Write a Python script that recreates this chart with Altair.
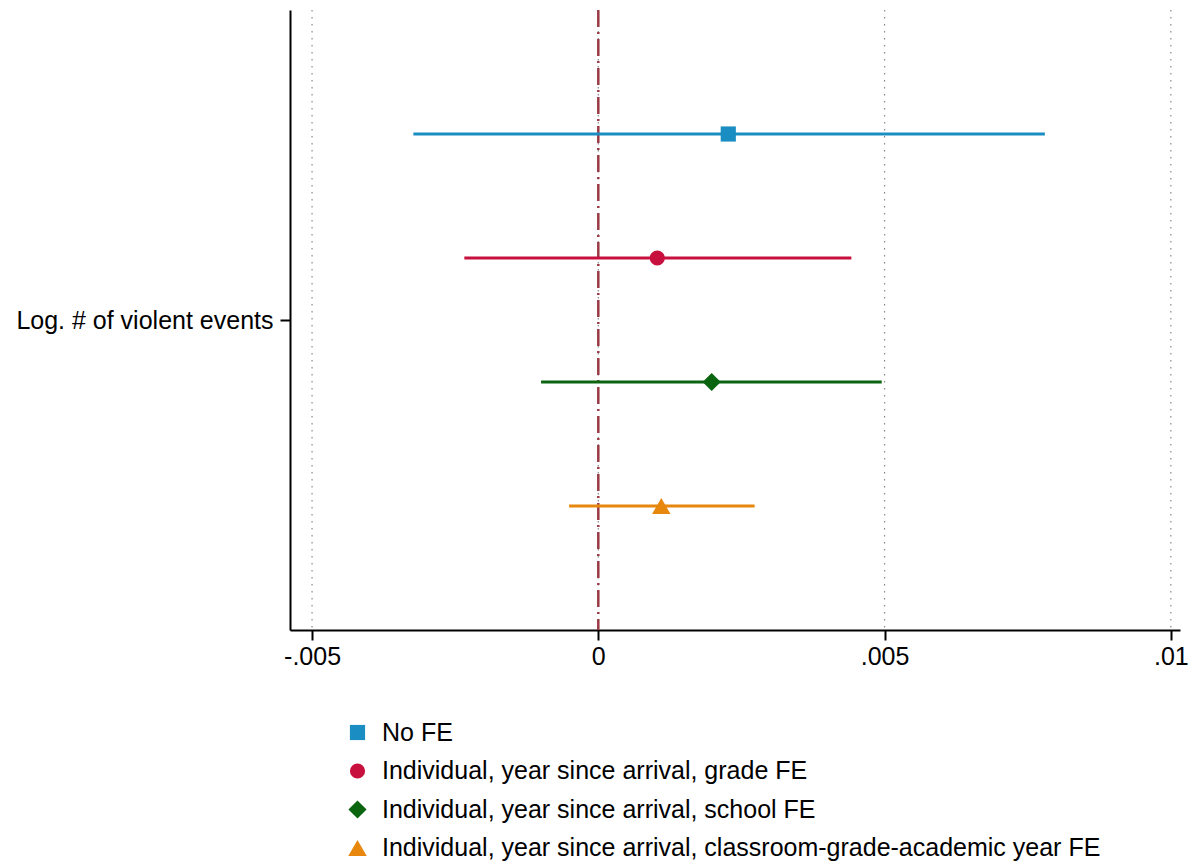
import altair as alt
import pandas as pd

series = [
    "No FE",
    "Individual, year since arrival, grade FE",
    "Individual, year since arrival, school FE",
    "Individual, year since arrival, classroom-grade-academic year FE",
]
coef = [0.00227, 0.00103, 0.00198, 0.00110]
ci_low = [-0.00323, -0.00234, -0.00100, -0.00051]
ci_high = [0.00780, 0.00442, 0.00495, 0.00273]
row_pos = [1, 2, 3, 4]
colors = ["#1a8dc2", "#c8103e", "#0b6410", "#e8870e"]
shapes = ["square", "circle", "diamond", "triangle-up"]
marker_sizes = [230, 230, 330, 340]
x_ticks = [-0.005, 0, 0.005, 0.01]
x_tick_labels = ["-.005", "0", ".005", ".01"]
y_label = "Log. # of violent events"

df = pd.DataFrame({"series": series, "coef": coef, "lo": ci_low, "hi": ci_high, "pos": row_pos})
grid_df = pd.DataFrame({"x": x_ticks})
ref_df = pd.DataFrame({"x": [0]})

FONT = "Liberation Sans"
xscale = alt.Scale(domain=[-0.005385, 0.01016], nice=False, zero=False)
yscale = alt.Scale(domain=[0, 5], reverse=True, nice=False, zero=False)

label_expr = " : ".join(
    [f"datum.value == {v} ? '{l}'" for v, l in zip(x_ticks, x_tick_labels)]
) + " : ''"

xaxis = alt.Axis(values=x_ticks, labelExpr=label_expr, title=None, grid=False,
                 tickSize=10, labelPadding=4)
yaxis = alt.Axis(values=[2.5], labelExpr=f"'{y_label}'", title=None, grid=False,
                 tickSize=10, labelPadding=7, labelLimit=1000)

color_scale = alt.Scale(domain=series, range=colors)
legend = alt.Legend(title=None, orient="none", legendX=55, legendY=710, direction="vertical")

grid = alt.Chart(grid_df).mark_rule(color="#888888", strokeWidth=1.2, strokeDash=[1.5, 5.5]).encode(
    x=alt.X("x:Q", scale=xscale, axis=xaxis),
    y=alt.value(0), y2=alt.value(620),
)

ref = alt.Chart(ref_df).mark_rule(color="#9a3a45", strokeWidth=2.5, strokeDash=[17, 5, 2, 5]).encode(
    x=alt.X("x:Q", scale=xscale, axis=xaxis),
    y=alt.value(0), y2=alt.value(620),
)

bars = alt.Chart(df).mark_rule(strokeWidth=3).encode(
    x=alt.X("lo:Q", scale=xscale, axis=xaxis),
    x2="hi:Q",
    y=alt.Y("pos:Q", scale=yscale, axis=yaxis),
    color=alt.Color("series:N", scale=color_scale, legend=legend),
)

points = alt.Chart(df).mark_point(filled=True, opacity=1).encode(
    x=alt.X("coef:Q", scale=xscale, axis=xaxis),
    y=alt.Y("pos:Q", scale=yscale, axis=yaxis),
    color=alt.Color("series:N", scale=color_scale, legend=legend),
    shape=alt.Shape("series:N", scale=alt.Scale(domain=series, range=shapes), legend=legend),
    size=alt.Size("series:N", scale=alt.Scale(type="ordinal", domain=series, range=marker_sizes),
                  legend=None),
)

chart = alt.layer(grid, ref, bars, points).properties(
    width=890, height=620,
    autosize=alt.AutoSizeParams(type="none"),
    padding={"left": 290, "top": 10, "right": 18, "bottom": 235},
).configure(
    background="white",
).configure_view(
    stroke=None,
).configure_axis(
    labelFontSize=25, labelFont=FONT, labelColor="black",
    tickWidth=2, tickColor="black", domainColor="black", domainWidth=2,
).configure_legend(
    labelFontSize=25, labelFont=FONT, labelColor="black", symbolSize=130,
    labelOffset=12, rowPadding=12.5, labelLimit=1000, symbolStrokeWidth=0, symbolOpacity=1,
)

chart.save("out.html", embed_options={"renderer": "svg", "actions": False})
